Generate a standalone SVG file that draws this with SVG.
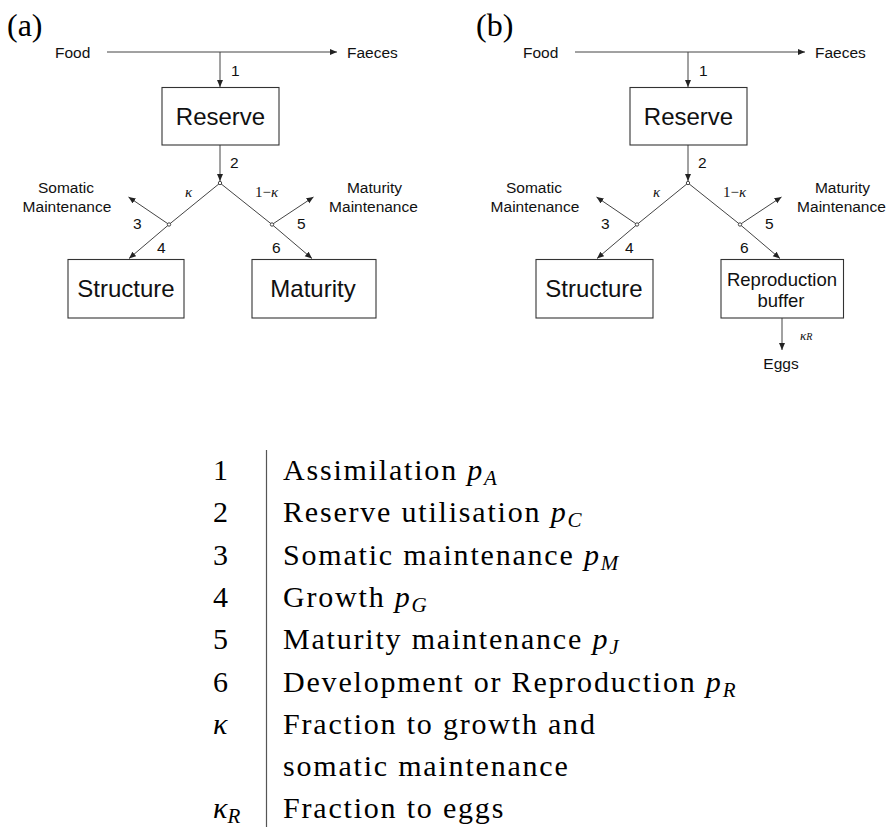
<svg xmlns="http://www.w3.org/2000/svg" width="888" height="827" viewBox="0 0 888 827">
<defs>
<marker id="ah" markerUnits="userSpaceOnUse" markerWidth="8" markerHeight="7" refX="7" refY="3" orient="auto">
<path d="M0,0 L7,3 L0,6 z" fill="#222"/>
</marker>
<style>
.box{fill:#fff;stroke:#333;stroke-width:1.1}
.ln{fill:none;stroke:#444;stroke-width:1}
.ar{fill:none;stroke:#444;stroke-width:1;marker-end:url(#ah)}
.jn{fill:#fff;stroke:#333;stroke-width:0.9}
.s{font-family:"Liberation Sans",Arial,sans-serif;font-size:15.5px;fill:#111}
.big{font-family:"Liberation Sans",Arial,sans-serif;font-size:24px;fill:#111;text-anchor:middle}
.mid{font-family:"Liberation Sans",Arial,sans-serif;font-size:18.5px;fill:#111;text-anchor:middle}
.c{text-anchor:middle}
.k{font-family:"Liberation Serif","Times New Roman",serif;font-size:15px;fill:#111}
.ki{font-style:italic}
.pl{font-family:"Liberation Serif","Times New Roman",serif;font-size:32px;fill:#000}
.lg{font-family:"Liberation Serif","Times New Roman",serif;font-size:30px;fill:#000;letter-spacing:1.8px}
.lk{font-family:"Liberation Serif","Times New Roman",serif;font-size:30px;fill:#000}
.it{font-style:italic}
.sub{font-size:21px;font-style:italic}
</style>
</defs>

<g id="connectors">
<!-- panel a -->
<path class="ar" d="M107,52 H337"/>
<path class="ar" d="M220,52 V87"/>
<path class="ar" d="M220,145 V181"/>
<path class="ln" d="M220,183 L169,224.5"/>
<path class="ar" d="M169,224.5 L129,258.5"/>
<path class="ar" d="M169,224.5 L128.5,197"/>
<path class="ln" d="M220,183 L272,224.5"/>
<path class="ar" d="M272,224.5 L312,258.5"/>
<path class="ar" d="M272,224.5 L313.5,197"/>
<!-- panel b -->
<path class="ar" d="M575,52 H805"/>
<path class="ar" d="M688,52 V87"/>
<path class="ar" d="M688,145 V181"/>
<path class="ln" d="M688,183 L637,224.5"/>
<path class="ar" d="M637,224.5 L597,258.5"/>
<path class="ar" d="M637,224.5 L596.5,197"/>
<path class="ln" d="M688,183 L740,224.5"/>
<path class="ar" d="M740,224.5 L780,258.5"/>
<path class="ar" d="M740,224.5 L781.5,197"/>
<path class="ar" d="M782,318 V350"/>
<!-- junctions -->
<circle class="jn" cx="220" cy="183" r="1.7"/>
<circle class="jn" cx="169" cy="224.5" r="1.7"/>
<circle class="jn" cx="272" cy="224.5" r="1.7"/>
<circle class="jn" cx="688" cy="183" r="1.7"/>
<circle class="jn" cx="637" cy="224.5" r="1.7"/>
<circle class="jn" cx="740" cy="224.5" r="1.7"/>
<!-- flow labels a -->
<text class="s" x="231" y="76">1</text>
<text class="s" x="230" y="168">2</text>
<text class="s" x="133" y="229">3</text>
<text class="s" x="157" y="253">4</text>
<text class="s" x="297" y="229">5</text>
<text class="s" x="272" y="253">6</text>
<text class="k ki" x="185" y="197">κ</text>
<text class="k" x="255" y="197">1−<tspan class="ki">κ</tspan></text>
<!-- flow labels b -->
<text class="s" x="699" y="76">1</text>
<text class="s" x="698" y="168">2</text>
<text class="s" x="601" y="229">3</text>
<text class="s" x="625" y="253">4</text>
<text class="s" x="765" y="229">5</text>
<text class="s" x="740" y="253">6</text>
<text class="k ki" x="653" y="197">κ</text>
<text class="k" x="723" y="197">1−<tspan class="ki">κ</tspan></text>
<text class="k ki" x="800" y="340" style="font-size:13px">κ<tspan style="font-size:10px">R</tspan></text>
</g>

<g id="panel-a-label"><text class="pl" x="7" y="36">(a)</text></g>
<g id="panel-b-label"><text class="pl" x="476" y="36">(b)</text></g>

<g id="food-a"><text class="s" x="55" y="58">Food</text></g>
<g id="faeces-a"><text class="s" x="347" y="58">Faeces</text></g>
<g id="reserve-a"><rect class="box" x="162" y="87.5" width="117" height="57.5"/><text class="big" x="220.5" y="125">Reserve</text></g>
<g id="somatic-a"><text class="s c" x="66" y="193">Somatic</text><text class="s c" x="67" y="211.5">Maintenance</text></g>
<g id="maturitymaint-a"><text class="s c" x="374.5" y="193">Maturity</text><text class="s c" x="373.5" y="211.5">Maintenance</text></g>
<g id="structure-a"><rect class="box" x="68" y="259.5" width="116" height="58.5"/><text class="big" x="126" y="297">Structure</text></g>
<g id="maturity-a"><rect class="box" x="252" y="259.5" width="124" height="58.5"/><text class="big" x="313" y="297">Maturity</text></g>

<g id="food-b"><text class="s" x="523" y="58">Food</text></g>
<g id="faeces-b"><text class="s" x="815" y="58">Faeces</text></g>
<g id="reserve-b"><rect class="box" x="630" y="87.5" width="117" height="57.5"/><text class="big" x="688.5" y="125">Reserve</text></g>
<g id="somatic-b"><text class="s c" x="534" y="193">Somatic</text><text class="s c" x="535" y="211.5">Maintenance</text></g>
<g id="maturitymaint-b"><text class="s c" x="842.5" y="193">Maturity</text><text class="s c" x="841.5" y="211.5">Maintenance</text></g>
<g id="structure-b"><rect class="box" x="536" y="259.5" width="117" height="58.5"/><text class="big" x="594" y="297">Structure</text></g>
<g id="reproduction-buffer-b"><rect class="box" x="721" y="259.5" width="122.5" height="58.5"/><text class="mid" x="782" y="285.5">Reproduction</text><text class="mid" x="781" y="306.5">buffer</text></g>
<g id="eggs-b"><text class="s c" x="781" y="369">Eggs</text></g>

<g id="legend">
<line x1="266.5" y1="450" x2="266.5" y2="827" stroke="#555" stroke-width="1.2"/>
<text class="lk" x="213" y="480">1</text>
<text class="lk" x="213" y="522.3">2</text>
<text class="lk" x="213" y="564.6">3</text>
<text class="lk" x="213" y="606.9">4</text>
<text class="lk" x="213" y="649.2">5</text>
<text class="lk" x="213" y="691.5">6</text>
<text class="lk it" x="213" y="733.8">κ</text>
<text class="lk" x="213" y="818.4"><tspan class="it">κ</tspan><tspan class="sub" dy="5">R</tspan></text>
<text class="lg" x="283" y="480">Assimilation <tspan class="it">p</tspan><tspan class="sub" dy="5">A</tspan></text>
<text class="lg" x="283" y="522.3">Reserve utilisation <tspan class="it">p</tspan><tspan class="sub" dy="5">C</tspan></text>
<text class="lg" x="283" y="564.6">Somatic maintenance <tspan class="it">p</tspan><tspan class="sub" dy="5">M</tspan></text>
<text class="lg" x="283" y="606.9">Growth <tspan class="it">p</tspan><tspan class="sub" dy="5">G</tspan></text>
<text class="lg" x="283" y="649.2">Maturity maintenance <tspan class="it">p</tspan><tspan class="sub" dy="5">J</tspan></text>
<text class="lg" x="283" y="691.5">Development or Reproduction <tspan class="it">p</tspan><tspan class="sub" dy="5">R</tspan></text>
<text class="lg" x="283" y="733.8">Fraction to growth and</text>
<text class="lg" x="283" y="776.1">somatic maintenance</text>
<text class="lg" x="283" y="818.4">Fraction to eggs</text>
</g>
</svg>
